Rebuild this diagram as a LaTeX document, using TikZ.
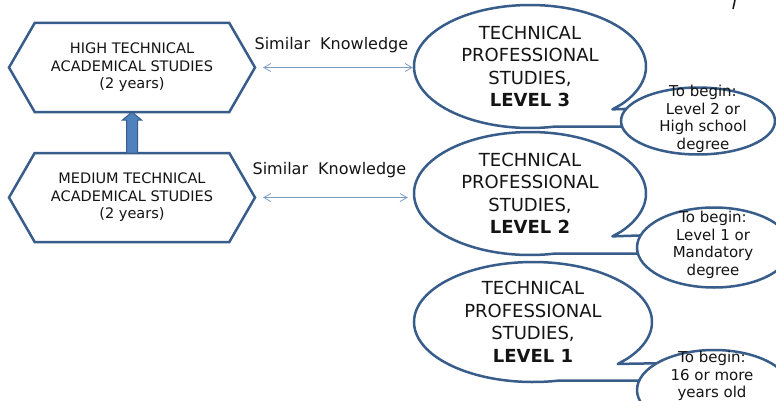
\documentclass[tikz,border=0pt]{standalone}
\usepackage{fontspec}
\setmainfont{DejaVu Sans}
\usetikzlibrary{shapes,arrows.meta,positioning,calc}
\definecolor{studyblue}{RGB}{56,93,138}
\definecolor{studyfill}{RGB}{79,129,189}
\definecolor{linkblue}{RGB}{124,156,196}
\definecolor{studytext}{RGB}{20,20,20}

\begin{document}
\begin{tikzpicture}[x=1pt,y=1pt,
    hexa/.style={signal, signal to=west and east, signal pointer angle=120,
        draw=studyblue, line width=2.5pt, fill=white, minimum width=246pt,
        minimum height=89pt, inner sep=0pt, outer sep=0pt, align=center,
        text=studytext, font=\fontsize{14.5}{17.5}\selectfont},
    bigtext/.style={ellipse, minimum width=232pt, minimum height=123pt,
        inner sep=0pt, align=center, text=studytext,
        font=\fontsize{18}{22.5}\selectfont},
    bubble/.style={draw=studyblue, line width=2.5pt, fill=white, line join=round},
    smallbub/.style={ellipse, draw=studyblue, line width=2.5pt, fill=white,
        inner sep=0pt},
    smalltext/.style={align=center, text=studytext, inner sep=0pt,
        font=\fontsize{15}{17.5}\selectfont},
    knowtext/.style={text=studytext, font=\fontsize{16}{19}\selectfont},
    link/.style={draw=linkblue, line width=0.8pt,
        {Straight Barb[length=7pt,width=8pt]}-{Straight Barb[length=7pt,width=8pt]}},
    blockarrow/.style={draw=studyblue, fill=studyfill, line width=1pt}
]
    % Frame
    \useasboundingbox (0,0) rectangle (776,400);
    \fill[white] (0,0) rectangle (776,400);
    \clip (0,0) rectangle (776,400);

    % Academical studies
    \node[hexa] (high) at (132,332.5) {HIGH TECHNICAL\\ACADEMICAL STUDIES\\(2 years)};
    \node[hexa] (mid) at (132,202.5) {MEDIUM TECHNICAL\\ACADEMICAL STUDIES\\(2 years)};
    \draw[blockarrow] ($(mid.north)+(-5.5,0)$) -- ($(high.south)+(-5.5,-8)$)
        -- ($(high.south)+(-9.5,-8)$) -- (high.south) -- ($(high.south)+(9.5,-8)$)
        -- ($(high.south)+(5.5,-8)$) -- ($(mid.north)+(5.5,0)$) -- cycle;

    % Level 3
    \coordinate (c3) at (530,333.5);
    \draw[bubble] ($(c3)+(-38:116 and 61.5)$)
        arc[start angle=-38, end angle=282, x radius=116, y radius=61.5]
        -- ++(102,0) -- ($(c3)+(140,-41)$)
        -- ($(c3)+(-38:116 and 61.5)+(-9,-5)$) -- cycle;

    % Level 2
    \coordinate (c2) at (530,206.5);
    \draw[bubble] ($(c2)+(-38:116 and 61.5)$)
        arc[start angle=-38, end angle=282, x radius=116, y radius=61.5]
        -- ++(102,0) -- ($(c2)+(140,-41)$)
        -- ($(c2)+(-38:116 and 61.5)+(-9,-5)$) -- cycle;

    % Level 1
    \coordinate (c1) at (533,78);
    \draw[bubble] ($(c1)+(-38:119 and 60)$)
        arc[start angle=-38, end angle=282, x radius=119, y radius=60]
        -- ++(102,0) -- ($(c1)+(140,-41)$)
        -- ($(c1)+(-38:119 and 60)+(-9,-5)$) -- cycle;

    % Entry requirements
    \node[smallbub, minimum width=154pt, minimum height=67pt] (s3) at (698,279) {};
    \node[smallbub, minimum width=154pt, minimum height=80pt] (s2) at (714,152.5) {};
    \node[smallbub, minimum width=154pt, minimum height=80pt] (s1) at (714,10) {};
    \node[smalltext] (s3t) at (703,281) {To begin:\\Level 2 or\\High school\\degree};
    \node[smalltext] (s2t) at (713,155) {To begin:\\Level 1 or\\Mandatory\\degree};
    \node[smalltext] (s1t) at (712,24) {To begin:\\16 or more\\years old};

    % Professional studies
    \node[bigtext] (b3) at (c3) {TECHNICAL\\PROFESSIONAL\\STUDIES,\\\textbf{LEVEL 3}};
    \node[bigtext] (b2) at (c2) {TECHNICAL\\PROFESSIONAL\\STUDIES,\\\textbf{LEVEL 2}};
    \node[bigtext] (b1) at (c1) {TECHNICAL\\PROFESSIONAL\\STUDIES,\\\textbf{LEVEL 1}};

    % Links
    \draw[link, shorten <=8pt, shorten >=1pt] (high.east) -- (high.east -| b3.west)
        node[knowtext, midway, yshift=22pt, xshift=-3pt] (k3) {Similar\ \ Knowledge};
    \draw[link, shorten <=8pt, shorten >=6pt] (mid.east) -- (mid.east -| b2.west)
        node[knowtext, midway, yshift=27pt, xshift=-5pt] (k2) {Similar\ \ Knowledge};

    \draw[studytext, line width=1.5pt] (733,391) -- (735,400);
\end{tikzpicture}
\end{document}
